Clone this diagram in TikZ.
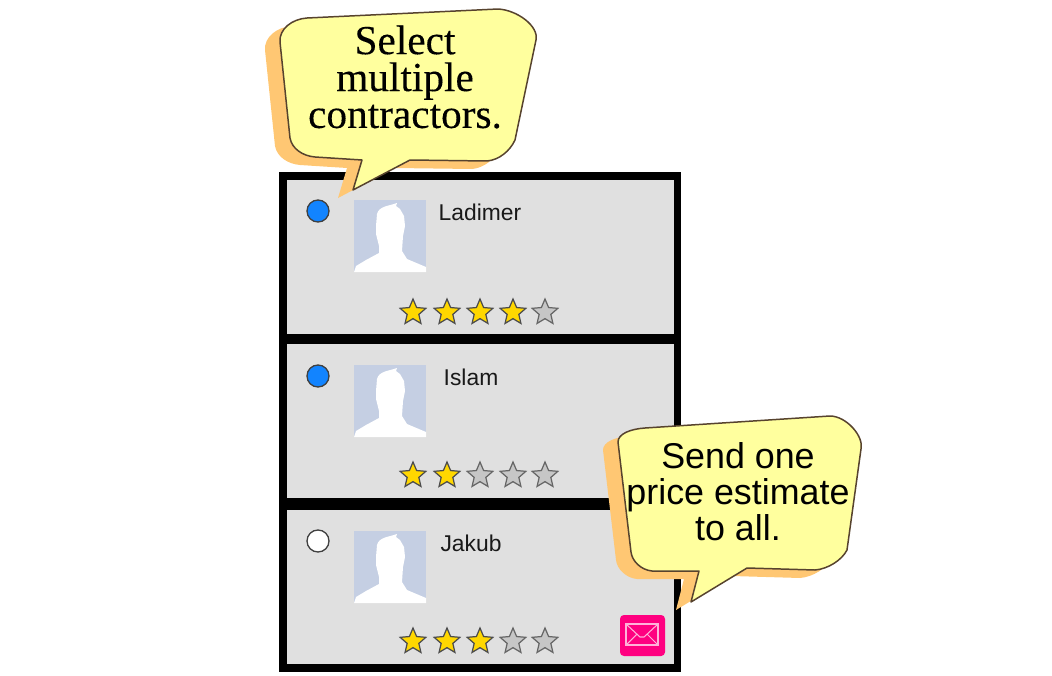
\documentclass[tikz,border=0pt]{standalone}
\usepackage{fontspec}
\setmainfont[FakeBold=0.25]{Liberation Serif}
\newfontfamily\labelfont{Liberation Sans}
\usetikzlibrary{shapes.geometric}

\definecolor{panelgray}{HTML}{E0E0E0}
\definecolor{bubblefill}{HTML}{FFFF9E}
\definecolor{bubbleline}{HTML}{57432E}
\definecolor{shadowfill}{HTML}{FFC773}
\definecolor{radioblue}{HTML}{1284FF}
\definecolor{avatarblue}{HTML}{C5CFE3}
\definecolor{stargold}{HTML}{FFD700}
\definecolor{stargray}{HTML}{C6C6C6}
\definecolor{mailpink}{HTML}{FF0080}

\newcommand{\selectpath}{(280,42) .. controls (279,29) and (292,19) .. (307,18) -- (498,9) .. controls (517,10) and (539,26) .. (536,40) -- (515,140) .. controls (510,151) and (499,160) .. (487,161) -- (410,160) -- (353,190) -- (362,160) -- (315,157) .. controls (303,156) and (292,149) .. (290,138) -- cycle}
\newcommand{\sendpath}{(618,442) .. controls (618,434) and (630,429) .. (645,428) -- (830,416) .. controls (846,416) and (864,436) .. (861,449) -- (847,550) .. controls (842,560) and (828,569) .. (815,570) -- (747,568) -- (691,602) -- (699,571) -- (652,571) .. controls (641,570) and (632,561) .. (631,552) -- cycle}

\tikzset{
    panel/.style={draw=none, fill=panelgray, rectangle, inner sep=0pt, minimum width=387*0.02cm, minimum height=154*0.02cm},
    radio/.style={draw=black!75, line width=0.75pt, circle, inner sep=0pt, minimum size=22*0.02cm},
    rowname/.style={font=\labelfont\fontsize{13pt}{15pt}\selectfont, text=black!90, inner sep=0pt},
    goodstar/.style={star, star points=5, star point ratio=2.2, draw=black!70, line width=0.7pt, fill=stargold, inner sep=0pt, minimum size=27*0.02cm},
    badstar/.style={goodstar, fill=stargray, draw=black!60},
    bubbleshadow/.style={fill=shadowfill, shift={(-15,8)}},
    bubble/.style={fill=bubblefill, draw=bubbleline, line width=0.85pt, line join=round},
    mailline/.style={draw=white!70!mailpink, line width=0.6pt},
    avatar/.pic={
        \fill[avatarblue] (0,0) rectangle (72,72);
        \fill[white] (43,3) .. controls (35,6) and (25,6) .. (23,14) -- (22,26) -- (22,34) -- (25,46) -- (25,53) -- (12,60) -- (2,66) -- (0,72) -- (72,72) -- (72,67) -- (53,59) -- (48,51) -- (49,36) -- (51,26) -- (50,16) -- (46,9) -- (42,6) -- cycle;
    }
}

\begin{document}
\begin{tikzpicture}[x=0.02cm, y=-0.02cm]
    \useasboundingbox (0,0) rectangle (1052,676);

    % frame and the three rows
    \fill[black] (279,172) rectangle (681,672);
    \node[panel] (row1) at (480.5,256.5) {};
    \node[panel] (row2) at (480.5,421) {};
    \node[panel] (row3) at (480.5,587) {};

    \node[radio, fill=radioblue] (radio1) at (318,211) {};
    \node[radio, fill=radioblue] (radio2) at (318,376) {};
    \node[radio, fill=white] (radio3) at (318,541) {};

    \pic at (354,200) {avatar};
    \pic at (354,365) {avatar};
    \pic at (354,531) {avatar};

    \node[rowname] (ladimer) at (480,212) {Ladimer};
    \node[rowname] (islam) at (471,377) {Islam};
    \node[rowname] (jakub) at (471,543) {Jakub};

    % stars of each row
    \foreach \i/\x in {1/413,2/447,3/480,4/513}
        \node[goodstar] (stara\i) at (\x,312.5) {};
    \node[badstar] (stara5) at (545,312.5) {};

    \foreach \i/\x in {1/413,2/447}
        \node[goodstar] (starb\i) at (\x,475.5) {};
    \foreach \i/\x in {3/480,4/513,5/545}
        \node[badstar] (starb\i) at (\x,475.5) {};

    \foreach \i/\x in {1/413,2/447,3/480}
        \node[goodstar] (starc\i) at (\x,641.5) {};
    \foreach \i/\x in {4/513,5/545}
        \node[badstar] (starc\i) at (\x,641.5) {};

    % mail button
    \node[fill=mailpink, rounded corners=2.2pt, inner sep=0pt, minimum width=45*0.02cm, minimum height=41*0.02cm] (mail) at (642.5,635.5) {};
    \draw[mailline] (626,624) rectangle (658,645);
    \draw[mailline] (626,624) -- (640,637) -- (644,637) -- (658,624) (626,645) -- (637,634) (658,645) -- (647,634);

    % speech bubbles
    \fill[bubbleshadow] \selectpath;
    \draw[bubble] \selectpath;
    \node[align=center, inner sep=0pt, font=\fontsize{23.5pt}{21pt}\selectfont] (selecttext) at (405,77) {Select\\multiple\\contractors.};

    \fill[bubbleshadow] \sendpath;
    \draw[bubble] \sendpath;
    \node[align=center, inner sep=0pt, font=\labelfont\fontsize{20.4pt}{20.4pt}\selectfont] (sendtext) at (738,492) {Send one\\price estimate\\to all.};
\end{tikzpicture}
\end{document}
